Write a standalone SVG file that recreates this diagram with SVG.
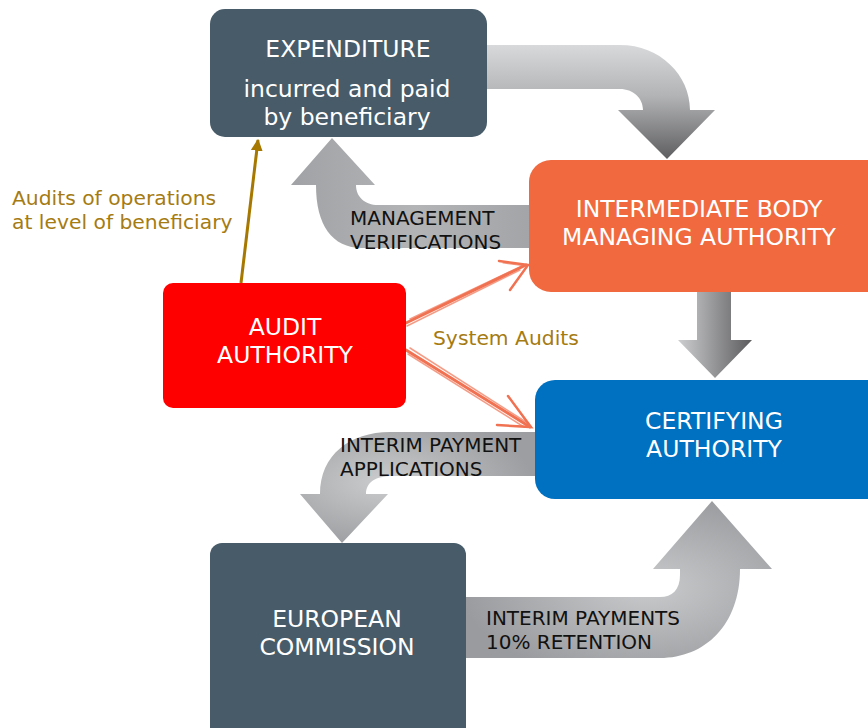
<svg xmlns="http://www.w3.org/2000/svg" width="868" height="728" viewBox="0 0 868 728">
<style>
.box{font-family:"DejaVu Sans","Liberation Sans",sans-serif;font-size:23.5px;fill:#ffffff;text-anchor:middle}
.lbl{font-family:"DejaVu Sans","Liberation Sans",sans-serif;font-size:20px;fill:#111111}
.gold{font-family:"DejaVu Sans","Liberation Sans",sans-serif;font-size:20.3px;fill:#a57b12}
.sk{stroke:#f07252;fill:none;stroke-linecap:round}
</style>
<defs>
<linearGradient id="gTop" x1="0" y1="0" x2="0" y2="1">
<stop offset="0" stop-color="#d8d9db"/><stop offset="0.45" stop-color="#b2b3b5"/><stop offset="1" stop-color="#5e5e60"/>
</linearGradient>
<linearGradient id="gDown" x1="0" y1="0" x2="1" y2="0">
<stop offset="0" stop-color="#cdcecf"/><stop offset="1" stop-color="#5c5c5e"/>
</linearGradient>
<linearGradient id="gMan" x1="0" y1="0" x2="1" y2="0">
<stop offset="0" stop-color="#a1a2a5"/><stop offset="0.5" stop-color="#b3b4b6"/><stop offset="1" stop-color="#a2a3a6"/>
</linearGradient>
<radialGradient id="gIPA" cx="0.35" cy="0.45" r="0.6">
<stop offset="0" stop-color="#cbcccd"/><stop offset="1" stop-color="#9d9ea1"/>
</radialGradient>
<radialGradient id="gIP" cx="0.6" cy="0.55" r="0.6">
<stop offset="0" stop-color="#c9cacc"/><stop offset="1" stop-color="#9a9b9e"/>
</radialGradient>
<marker id="mBrown" viewBox="0 0 10 10" refX="9" refY="5" markerWidth="4" markerHeight="4" orient="auto">
<path d="M0,0 L10,5 L0,10 Z" fill="#a67800"/>
</marker>
</defs>

<g id="connectors">
<path d="M480 45 H620 C660 45 690 75 690 110 H715 L667 159 L618 110 H643 C643 98 633 89 620 89 H480 Z" fill="url(#gTop)"/>
<path d="M540 205 H378 C365 205 356 197 356 185 H375 L332 138 L291 185 H316 C316 225 332 248 362 248 H540 Z" fill="url(#gMan)"/>
<path d="M697 285 H731 V340 H752 L715 378 L678 340 H697 Z" fill="url(#gDown)"/>
<path d="M545 432 H390 C350 432 320 455 320 494 H300 L342 543 L388 494 H366 C366 482 376 476 392 476 H545 Z" fill="url(#gIPA)"/>
<path d="M460 597 H660 C672 597 680 590 680 575 V569 H653 L712 501 L772 569 H740 C740 625 705 658 660 658 H460 Z" fill="url(#gIP)"/>
<line x1="241" y1="283" x2="258" y2="140" stroke="#a67800" stroke-width="3" marker-end="url(#mBrown)"/>
<g class="sk">
<path d="M406 323 L526 265" stroke-width="3"/>
<path d="M410 319 L522 266" stroke-width="1.5" opacity="0.7"/>
<path d="M407 326 L520 270" stroke-width="1.5" opacity="0.7"/>
<path d="M499 261 L528 265 L510 290" stroke-width="2.5"/>
<path d="M503 263 L526 266" stroke-width="1.2" opacity="0.7"/>
<path d="M406 350 L530 427" stroke-width="3"/>
<path d="M410 348 L526 422" stroke-width="1.5" opacity="0.7"/>
<path d="M408 354 L524 427" stroke-width="1.5" opacity="0.7"/>
<path d="M508 396 L531 427 L497 425" stroke-width="2.5"/>
<path d="M511 400 L528 424" stroke-width="1.2" opacity="0.7"/>
</g>
</g>

<g id="expenditure">
<rect x="210" y="9" width="277" height="128" rx="15" fill="#475b69"/>
<text class="box" x="348" y="57">EXPENDITURE</text>
<text class="box" x="347" y="97" font-size="24">incurred and paid</text>
<text class="box" x="347" y="125" font-size="24">by beneficiary</text>
</g>

<g id="intermediate">
<rect x="529" y="160" width="360" height="132" rx="22" fill="#f0693f"/>
<text class="box" x="699" y="217">INTERMEDIATE BODY</text>
<text class="box" x="699" y="245">MANAGING AUTHORITY</text>
</g>

<g id="audit">
<rect x="163" y="283" width="243" height="125" rx="10" fill="#ff0000"/>
<text class="box" x="285" y="335">AUDIT</text>
<text class="box" x="285" y="363">AUTHORITY</text>
</g>

<g id="certifying">
<rect x="535" y="380" width="353" height="119" rx="20" fill="#0070c0"/>
<text class="box" x="714" y="429">CERTIFYING</text>
<text class="box" x="714" y="457">AUTHORITY</text>
</g>

<g id="commission">
<rect x="210" y="543" width="256" height="200" rx="12" fill="#475b69"/>
<text class="box" x="337" y="627">EUROPEAN</text>
<text class="box" x="337" y="655">COMMISSION</text>
</g>

<g id="labels">
<text class="lbl" x="350" y="225">MANAGEMENT</text>
<text class="lbl" x="350" y="249">VERIFICATIONS</text>
<text class="lbl" x="340" y="452">INTERIM PAYMENT</text>
<text class="lbl" x="340" y="476">APPLICATIONS</text>
<text class="lbl" x="486" y="625">INTERIM PAYMENTS</text>
<text class="lbl" x="486" y="649">10% RETENTION</text>
<text class="gold" x="433" y="345">System Audits</text>
<text class="gold" x="12" y="205">Audits of operations</text>
<text class="gold" x="12" y="229">at level of beneficiary</text>
</g>
</svg>
